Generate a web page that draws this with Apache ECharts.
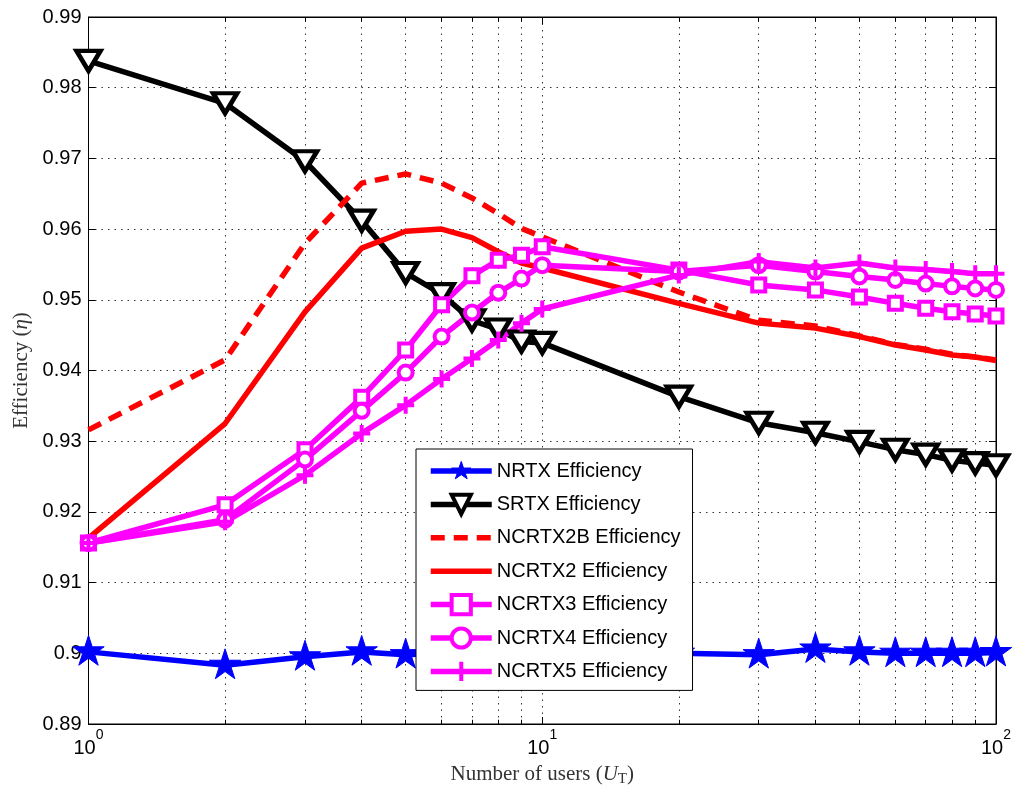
<!DOCTYPE html>
<html>
<head>
<meta charset="utf-8">
<script src="https://cdn.jsdelivr.net/npm/echarts@6/dist/echarts.min.js"></script>
<style>
  html, body { margin: 0; padding: 0; background: #fff; }
  #chart { width: 1017px; height: 796px; }
</style>
</head>
<body>
<div id="chart"></div>
<script>
// ---- data ----
const users = [1, 2, 3, 4, 5, 6, 7, 8, 9, 10, 20, 30, 40, 50, 60, 70, 80, 90, 100];
const nrtx = [0.9002, 0.8983, 0.8995, 0.9002, 0.8998, 0.9000, 0.9001, 0.9000, 0.9000, 0.9001, 0.9000, 0.8998, 0.9006, 0.9002, 0.9000, 0.9000, 0.9000, 0.9000, 0.9001];
const srtx = [0.9838, 0.9778, 0.9696, 0.9612, 0.9538, 0.9508, 0.9471, 0.9458, 0.9441, 0.9439, 0.9363, 0.9326, 0.9312, 0.9299, 0.9288, 0.9281, 0.9273, 0.9269, 0.9266];
const ncrtx2b = [0.9316, 0.9415, 0.9580, 0.9665, 0.9678, 0.9665, 0.9644, 0.9622, 0.9601, 0.9589, 0.9511, 0.9471, 0.9463, 0.9449, 0.9437, 0.9430, 0.9423, 0.9419, 0.9415];
const ncrtx2 = [0.9163, 0.9325, 0.9483, 0.9573, 0.9597, 0.9600, 0.9588, 0.9568, 0.9552, 0.9545, 0.9495, 0.9467, 0.9460, 0.9448, 0.9436, 0.9429, 0.9422, 0.9419, 0.9414];
const ncrtx3 = [0.9156, 0.9210, 0.9288, 0.9362, 0.9429, 0.9493, 0.9534, 0.9556, 0.9563, 0.9575, 0.9542, 0.9521, 0.9514, 0.9504, 0.9495, 0.9488, 0.9483, 0.9480, 0.9477];
const ncrtx4 = [0.9156, 0.9189, 0.9274, 0.9343, 0.9397, 0.9448, 0.9482, 0.9510, 0.9530, 0.9549, 0.9540, 0.9549, 0.9540, 0.9533, 0.9528, 0.9523, 0.9519, 0.9516, 0.9514];
const ncrtx5 = [0.9156, 0.9186, 0.9252, 0.9311, 0.9351, 0.9388, 0.9417, 0.9443, 0.9467, 0.9487, 0.9535, 0.9554, 0.9545, 0.9552, 0.9545, 0.9543, 0.9540, 0.9537, 0.9537];
const seriesNames = ['NRTX Efficiency', 'SRTX Efficiency', 'NCRTX2B Efficiency', 'NCRTX2 Efficiency', 'NCRTX3 Efficiency', 'NCRTX4 Efficiency', 'NCRTX5 Efficiency'];
const minorX = [2, 3, 4, 5, 6, 7, 8, 9, 20, 30, 40, 50, 60, 70, 80, 90];
const yMin = 0.89, yMax = 0.99, yStep = 0.01;

// ---- helpers ----
const pair = (ys) => users.map((x, i) => [x, ys[i]]);
const STAR = 'path://M0,-1L0.2234,-0.3074L0.951,-0.309L0.3614,0.1174L0.588,0.809L0,0.38L-0.588,0.809L-0.3614,0.1174L-0.951,-0.309L-0.2234,-0.3074ZM0,1';
const PLUS = 'path://M0,-1L0,1M-1,0L1,0';
const SANS = 'Liberation Sans';
const SERIF = 'Liberation Serif';
const LW = 5.5;

function lineSeries(name, ys, color, extra) {
  return Object.assign({
    name: name, type: 'line', data: pair(ys),
    xAxisIndex: 0, yAxisIndex: 0, z: 3,
    lineStyle: { color: color, width: LW },
    itemStyle: { color: color },
    symbol: 'none',
    emphasis: { disabled: true }
  }, extra || {});
}

const chart = echarts.init(document.getElementById('chart'), null, { renderer: 'canvas' });
const gridTicks = [];
minorX.forEach(x => {
  gridTicks.push([{ coord: [x, yMin] }, { coord: [x, yMin + 0.0006] }]);
  gridTicks.push([{ coord: [x, yMax] }, { coord: [x, yMax - 0.0006] }]);
});

chart.setOption({
  animation: false,
  backgroundColor: '#fff',
  grid: { left: 88.5, right: 21, top: 17, bottom: 72, show: true, borderColor: '#000', borderWidth: 1, backgroundColor: 'transparent' },
  xAxis: [{
    type: 'log', logBase: 10, min: 1, max: 100, position: 'bottom',
    axisLine: { show: true, lineStyle: { color: '#000', width: 1 } },
    axisTick: { show: true, inside: true, length: 7, lineStyle: { color: '#000' } },
    splitLine: { show: true, lineStyle: { type: [1.5, 5], color: '#333', width: 1 } },
    axisLabel: {
      margin: 4, color: '#000',
      formatter: v => '{b|10}{s|' + Math.round(Math.log10(v)) + '}',
      rich: {
        b: { fontFamily: SANS, fontSize: 20, color: '#000', lineHeight: 30, verticalAlign: 'bottom' },
        s: { fontFamily: SANS, fontSize: 14, color: '#000', lineHeight: 30, verticalAlign: 'top' }
      }
    },
    name: '{n|Number of users (}{i|U}{t|T}{n|)}',
    nameLocation: 'middle', nameGap: 38,
    nameTextStyle: {
      rich: {
        n: { fontFamily: SERIF, fontSize: 21, color: '#333' },
        i: { fontFamily: SERIF, fontSize: 21, fontStyle: 'italic', color: '#333' },
        t: { fontFamily: SERIF, fontSize: 15, color: '#333', padding: [10, 0, 0, 0] }
      }
    }
  }, {
    type: 'log', logBase: 10, min: 1, max: 100, position: 'top',
    axisLine: { show: true, lineStyle: { color: '#000', width: 1 } },
    axisTick: { show: true, inside: true, length: 7, lineStyle: { color: '#000' } },
    splitLine: { show: false }, axisLabel: { show: false }
  }],
  yAxis: [{
    type: 'value', min: yMin, max: yMax, interval: yStep, position: 'left',
    axisLine: { show: true, lineStyle: { color: '#000', width: 1 } },
    axisTick: { show: true, inside: true, length: 7, lineStyle: { color: '#000' } },
    splitLine: { show: true, lineStyle: { type: [1.5, 5], color: '#333', width: 1 } },
    axisLabel: { margin: 7, color: '#000', fontFamily: SANS, fontSize: 20, formatter: v => String(parseFloat(v.toFixed(2))) },
    name: '{n|Efficiency (}{i|η}{n|)}',
    nameLocation: 'middle', nameGap: 57,
    nameTextStyle: {
      rich: {
        n: { fontFamily: SERIF, fontSize: 21, color: '#333' },
        i: { fontFamily: SERIF, fontSize: 21, fontStyle: 'italic', color: '#333' }
      }
    }
  }, {
    type: 'value', min: yMin, max: yMax, interval: yStep, position: 'right',
    axisLine: { show: true, lineStyle: { color: '#000', width: 1 } },
    axisTick: { show: true, inside: true, length: 7, lineStyle: { color: '#000' } },
    splitLine: { show: false }, axisLabel: { show: false }
  }],
  legend: {
    orient: 'vertical', left: 416, top: 449,
    padding: [10, 12, 7, 12], itemGap: 9.4, itemWidth: 61, itemHeight: 24,
    backgroundColor: '#fff', borderColor: '#000', borderWidth: 1, borderRadius: 0,
    selectedMode: false,
    lineStyle: { width: LW },
    textStyle: { fontFamily: SANS, fontSize: 20, color: '#000', lineHeight: 24 },
    data: [
      { name: seriesNames[0], itemStyle: { color: '#0000ff', borderColor: '#0000ff', borderWidth: 1 } },
      { name: seriesNames[1], itemStyle: { color: '#ffffff', borderColor: '#000000', borderWidth: 4 } },
      { name: seriesNames[2], itemStyle: { opacity: 0 } },
      { name: seriesNames[3], itemStyle: { opacity: 0 } },
      { name: seriesNames[4], itemStyle: { color: '#ffffff', borderColor: '#ff00ff', borderWidth: 4 } },
      { name: seriesNames[5], itemStyle: { color: '#ffffff', borderColor: '#ff00ff', borderWidth: 4 } },
      { name: seriesNames[6], itemStyle: { color: '#ff00ff', borderColor: '#ff00ff', borderWidth: 4 } }
    ]
  },
  series: [
    {
      name: '', type: 'line', data: [], silent: true, z: 1,
      markLine: {
        z: 1, silent: true, symbol: 'none', label: { show: false }, emphasis: { disabled: true },
        lineStyle: { type: [1.5, 5], color: '#333', width: 1 },
        data: minorX.map(x => ({ xAxis: x }))
      }
    },
    {
      name: '', type: 'line', data: [], silent: true, z: 1,
      markLine: {
        z: 6, silent: true, symbol: 'none', label: { show: false }, emphasis: { disabled: true },
        lineStyle: { type: 'solid', color: '#000', width: 1 },
        data: gridTicks
      }
    },
    lineSeries(seriesNames[0], nrtx, '#0000ff', {
      symbol: STAR, symbolSize: 33, symbolKeepAspect: true, showAllSymbol: true,
      itemStyle: { color: '#0000ff', borderColor: '#0000ff', borderWidth: 1 }
    }),
    lineSeries(seriesNames[1], srtx, '#000000', {
      symbol: 'triangle', symbolRotate: 180, symbolSize: [24, 20], showAllSymbol: true,
      itemStyle: { color: '#ffffff', borderColor: '#000000', borderWidth: 4.5 }
    }),
    lineSeries(seriesNames[2], ncrtx2b, '#ff0000', {
      lineStyle: { color: '#ff0000', width: LW, type: [14, 9] }
    }),
    lineSeries(seriesNames[3], ncrtx2, '#ff0000'),
    lineSeries(seriesNames[4], ncrtx3, '#ff00ff', {
      symbol: 'rect', symbolSize: 13, showAllSymbol: true,
      itemStyle: { color: '#ffffff', borderColor: '#ff00ff', borderWidth: 4 }
    }),
    lineSeries(seriesNames[5], ncrtx4, '#ff00ff', {
      symbol: 'circle', symbolSize: 14, showAllSymbol: true,
      itemStyle: { color: '#ffffff', borderColor: '#ff00ff', borderWidth: 4 }
    }),
    lineSeries(seriesNames[6], ncrtx5, '#ff00ff', {
      symbol: PLUS, symbolSize: 17, showAllSymbol: true,
      itemStyle: { color: '#ff00ff', borderColor: '#ff00ff', borderWidth: 4 }
    })
  ]
});
</script>
</body>
</html>
